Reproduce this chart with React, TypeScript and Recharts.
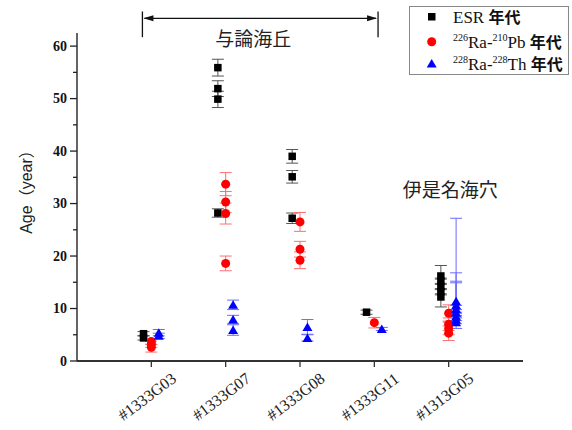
import React from 'react';
import { ScatterChart, Scatter, XAxis, YAxis, ErrorBar } from 'recharts';

const categories = ['#1333G03', '#1333G07', '#1333G08', '#1333G11', '#1313G05'];

// ESR 年代: category (1-based), age, [minus, plus] error
const esrCat = [1, 1, 2, 2, 2, 2, 3, 3, 3, 4, 5, 5, 5, 5, 5];
const esrAge = [5.2, 4.4, 55.9, 51.9, 49.9, 28.2, 39.0, 35.1, 27.2, 9.3, 16.2, 15.2, 14.2, 13.2, 12.2];
const esrErr = [[0.4, 0.4], [0.4, 0.4], [1.6, 1.6], [1.5, 1.5], [1.6, 1.5], [0.8, 0.8], [1.3, 1.3], [1.2, 1.2], [1.0, 1.0], [0.4, 0.4], [0.4, 2.0], [0.4, 0.4], [0.4, 0.4], [0.4, 0.4], [1.9, 0.4]];

// 226Ra-210Pb 年代
const pbCat = [1, 1, 1, 2, 2, 2, 2, 3, 3, 3, 4, 5, 5, 5, 5];
const pbAge = [3.7, 3.2, 2.6, 33.7, 30.3, 28.1, 18.6, 26.5, 21.3, 19.2, 7.3, 9.1, 7.0, 6.2, 5.3];
const pbErr = [[0.6, 0.6], [0.6, 0.6], [0.9, 0.6], [2.2, 2.2], [2.0, 2.0], [2.0, 2.0], [1.4, 1.4], [1.8, 1.8], [1.5, 1.5], [1.6, 1.6], [1.0, 1.0], [1.5, 1.6], [1.2, 1.2], [1.2, 1.2], [1.4, 1.4]];

// 228Ra-228Th 年代
const thCat = [1, 1, 2, 2, 2, 3, 3, 4, 5, 5, 5, 5, 5, 5, 5];
const thAge = [5.4, 4.8, 10.7, 7.9, 5.9, 6.5, 4.4, 6.1, 11.4, 10.6, 9.9, 9.2, 8.5, 7.9, 7.4];
const thErr = [[0.6, 0.6], [0.5, 0.5], [0.9, 0.9], [0.8, 0.8], [1.0, 1.0], [1.4, 1.4], [0.6, 0.6], [0.3, 0.3], [0.8, 15.8], [0.8, 6.2], [0.8, 5.3], [0.8, 5.7], [0.8, 0.8], [0.8, 0.8], [1.2, 0.8]];

const yTicks = [0, 5, 10, 15, 20, 25, 30, 35, 40, 45, 50, 55, 60];

const W = 572;
const H = 430;
const PLOT_L = 77;
const PLOT_R = 523;
const PLOT_T = 33;
const PLOT_B = 361;
const X_MAX = 6;
const Y_MAX = 62.5;

const xPx = (v: number) => PLOT_L + (v / X_MAX) * (PLOT_R - PLOT_L);
const yPx = (v: number) => PLOT_B - (v / Y_MAX) * (PLOT_B - PLOT_T);

const build = (cats: number[], ages: number[], errs: number[][], shift: number) =>
  ages.map((age, i) => ({ x: cats[i] + shift, y: age, err: errs[i] }));

const esrData = build(esrCat, esrAge, esrErr, -0.105);
const pbData = build(pbCat, pbAge, pbErr, 0);
const thData = build(thCat, thAge, thErr, 0.1);

const serif = '"Liberation Serif", "Times New Roman", serif';
const cjk = '"Noto Sans CJK JP", "Noto Sans CJK SC", sans-serif';

const Square = (p: any) => <rect x={p.cx - 3.75} y={p.cy - 3.75} width={7.5} height={7.5} fill="#000" />;
const Dot = (p: any) => <circle cx={p.cx} cy={p.cy} r={4.5} fill="#ff0000" />;
const Tri = (p: any) => (
  <polygon points={`${p.cx},${p.cy - 4.5} ${p.cx + 5},${p.cy + 4} ${p.cx - 5},${p.cy + 4}`} fill="#0000ff" />
);

const YTick = (props: any) => {
  const { y, payload } = props;
  const major = payload.value % 10 === 0;
  return (
    <g>
      <line x1={major ? PLOT_L - 7 : PLOT_L - 4} x2={PLOT_L} y1={y} y2={y} stroke="#222" strokeWidth={1.3} />
      {major && (
        <text x={PLOT_L - 10} y={y} dy={4.5} textAnchor="end" fontFamily={serif} fontWeight="bold" fontSize={14} fill="#111">
          {payload.value}
        </text>
      )}
    </g>
  );
};

const XTick = (props: any) => {
  const { x, y, payload } = props;
  const cx = x - 4;
  const cy = y + 28;
  return (
    <text
      x={cx}
      y={cy}
      dy={5}
      textAnchor="middle"
      transform={`rotate(-37 ${cx} ${cy})`}
      fontFamily={serif}
      fontSize={16}
      fill="#222"
    >
      {categories[payload.value - 1]}
    </text>
  );
};

const Overlay = () => {
  const bx1 = xPx(0.88);
  const bx2 = xPx(4.05);
  const by = yPx(65.3);
  return (
    <svg width={W} height={H} style={{ position: 'absolute', left: 0, top: 0, pointerEvents: 'none' }}>
      {/* 与論海丘 bracket */}
      <line x1={bx1} x2={bx1} y1={yPx(66.6)} y2={yPx(61.7)} stroke="#111" strokeWidth={1.3} />
      <line x1={bx2} x2={bx2} y1={yPx(66.6)} y2={yPx(61.7)} stroke="#111" strokeWidth={1.3} />
      <line x1={bx1 + 2} x2={bx2 - 2} y1={by} y2={by} stroke="#111" strokeWidth={1.3} />
      <polygon points={`${bx1 + 1},${by} ${bx1 + 11},${by - 3} ${bx1 + 11},${by + 3}`} fill="#111" />
      <polygon points={`${bx2 - 1},${by} ${bx2 - 11},${by - 3} ${bx2 - 11},${by + 3}`} fill="#111" />
      <text x={xPx(2.37)} y={yPx(61.4)} dy={7} textAnchor="middle" fontFamily={cjk} fontSize={19} fill="#222">
        与論海丘
      </text>
      <text x={xPx(5.02)} y={yPx(32.6)} dy={7} textAnchor="middle" fontFamily={cjk} fontSize={19} fill="#222">
        伊是名海穴
      </text>

      {/* y axis title */}
      <text
        x={27}
        y={188}
        dy={5}
        textAnchor="middle"
        transform="rotate(-90 27 188)"
        fontFamily={'"Liberation Sans", "Noto Sans CJK JP", sans-serif'}
        fontSize={16}
        fill="#222"
      >
        Age（year）
      </text>

      {/* legend */}
      <rect x={409.5} y={6.5} width={159} height={68} fill="#fff" stroke="#888" strokeWidth={1} />
      <rect x={428} y={13} width={7.5} height={7.5} fill="#000" />
      <circle cx={431.7} cy={41.7} r={4.5} fill="#ff0000" />
      <polygon points="431.7,59 436.7,67.5 426.7,67.5" fill="#0000ff" />
      <text x={453} y={23} fontFamily={serif} fontSize={17} fill="#111">
        ESR <tspan fontFamily={cjk} fontWeight="bold" fontSize={16}>年代</tspan>
      </text>
      <text x={453} y={47.5} fontFamily={serif} fontSize={17} fill="#111">
        <tspan fontSize={10} dy={-7}>226</tspan>
        <tspan dy={7}>Ra-</tspan>
        <tspan fontSize={10} dy={-7}>210</tspan>
        <tspan dy={7}>Pb </tspan>
        <tspan fontFamily={cjk} fontWeight="bold" fontSize={16}>年代</tspan>
      </text>
      <text x={453} y={70} fontFamily={serif} fontSize={17} fill="#111">
        <tspan fontSize={10} dy={-7}>228</tspan>
        <tspan dy={7}>Ra-</tspan>
        <tspan fontSize={10} dy={-7}>228</tspan>
        <tspan dy={7}>Th </tspan>
        <tspan fontFamily={cjk} fontWeight="bold" fontSize={16}>年代</tspan>
      </text>
    </svg>
  );
};

export default function App() {
  return (
    <div style={{ position: 'absolute', left: 0, top: 0, width: W, height: H, background: '#fff' }}>
      <ScatterChart width={W} height={H} margin={{ top: PLOT_T, right: W - PLOT_R, left: 17, bottom: 9 }}>
        <XAxis
          type="number"
          dataKey="x"
          domain={[0, X_MAX]}
          ticks={[1, 2, 3, 4, 5]}
          allowDataOverflow
          height={60}
          axisLine={{ stroke: '#333', strokeWidth: 1.8 }}
          tickLine={{ stroke: '#333', strokeWidth: 1.3 }}
          tickSize={6}
          tick={<XTick />}
          interval={0}
        />
        <YAxis
          type="number"
          dataKey="y"
          domain={[0, Y_MAX]}
          ticks={yTicks}
          allowDataOverflow
          width={60}
          axisLine={{ stroke: '#222', strokeWidth: 1.4 }}
          tickLine={false}
          tick={<YTick />}
          interval={0}
        />
        <Scatter data={esrData} shape={<Square />} isAnimationActive={false}>
          <ErrorBar dataKey="err" direction="y" width={6} stroke="#555" strokeWidth={1} isAnimationActive={false} />
        </Scatter>
        <Scatter data={pbData} shape={<Dot />} isAnimationActive={false}>
          <ErrorBar dataKey="err" direction="y" width={6} stroke="#ff7070" strokeWidth={1} isAnimationActive={false} />
        </Scatter>
        <Scatter data={thData} shape={<Tri />} isAnimationActive={false}>
          <ErrorBar dataKey="err" direction="y" width={6} stroke="#6a6aff" strokeWidth={1} isAnimationActive={false} />
        </Scatter>
      </ScatterChart>
      <Overlay />
    </div>
  );
}
